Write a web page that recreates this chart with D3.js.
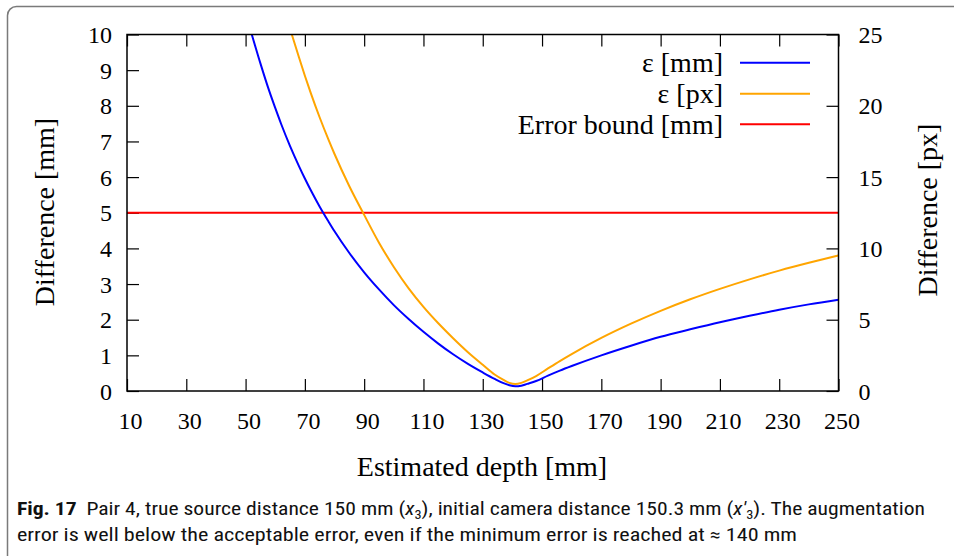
<!DOCTYPE html>
<html><head><meta charset="utf-8">
<script src="https://cdn.jsdelivr.net/npm/d3@7"></script>
<style>
html,body{margin:0;padding:0;background:#fff;}
svg{display:block;}
</style></head>
<body>
<svg id="chart" width="954" height="556"></svg>
<script>
// ---- data ----
const xTicks = [10,30,50,70,90,110,130,150,170,190,210,230,250];
const yLeftTicks = [0,1,2,3,4,5,6,7,8,9,10];
const yRightTicks = [0,5,10,15,20,25];
const seriesNames = ["ε [mm]", "ε [px]", "Error bound [mm]"];
const seriesColors = ["#0000ff", "#ffa500", "#ff0000"];
// ε [mm] (left axis)
const depthMm = [52.1,55,58,60,62,65,68,70,72,75,78,80,85,90,95,100,105,110,115,120,125,130,134,137,139,141,143,145,148,152,156,160,170,180,190,200,210,220,230,240,250];
const errMm   = [10.0,9.19,8.41,7.94,7.49,6.87,6.31,5.96,5.63,5.17,4.75,4.48,3.87,3.33,2.85,2.41,2.02,1.66,1.33,1.03,0.76,0.52,0.34,0.22,0.16,0.13,0.15,0.2,0.28,0.43,0.57,0.7,1.0,1.27,1.52,1.73,1.93,2.11,2.28,2.43,2.56];
// ε [px] (right axis)
const depthPx = [65.6,68,70,72,75,78,80,85,90,95,100,105,110,115,120,125,130,134,137,139,141,143,145,148,152,156,160,170,180,190,200,210,220,230,240,250];
const errPx   = [25.0,23.4,22.11,20.89,19.18,17.61,16.62,14.36,12.35,10.4,8.7,7.2,5.9,4.75,3.7,2.72,1.84,1.16,0.78,0.57,0.49,0.57,0.74,1.05,1.58,2.1,2.59,3.72,4.72,5.62,6.43,7.16,7.83,8.44,8.99,9.5];
// Error bound [mm]
const boundDepth = [10,250];
const boundMm = [5,5];

const svg = d3.select("#chart");
const serif = "'Liberation Serif','Times New Roman',serif";

// frame
svg.append("rect").attr("x",7.5).attr("y",6.5).attr("width",980).attr("height",600)
  .attr("rx",9).attr("fill","none").attr("stroke","#7a7a7a").attr("stroke-width",1.5);

const L=127, R=838.5, T=34.5, B=391;
const x = d3.scaleLinear().domain([10,250]).range([L,R]);
const yL = d3.scaleLinear().domain([0,10]).range([B,T]);
const yR = d3.scaleLinear().domain([0,25]).range([B,T]);

svg.append("defs").append("clipPath").attr("id","clip")
  .append("rect").attr("x",L).attr("y",T).attr("width",R-L).attr("height",B-T);

const tk = 12;
function styleAxis(g){
  g.selectAll("path.domain").remove();
  g.selectAll("line").attr("stroke","#000").attr("stroke-width",1.2);
  g.selectAll("text").attr("font-family",serif).attr("font-size",24).attr("fill","#000");
}
// bottom
svg.append("g").attr("transform",`translate(0,${B})`)
  .call(d3.axisBottom(x).tickValues(xTicks).tickSizeInner(-tk).tickSizeOuter(0).tickPadding(0).tickFormat(d3.format("d")))
  .call(styleAxis).call(g=>g.selectAll("text").attr("dy",0).attr("y",38).attr("x",3));
// top
svg.append("g").attr("transform",`translate(0,${T})`)
  .call(d3.axisTop(x).tickValues(xTicks).tickSizeInner(-tk).tickSizeOuter(0).tickFormat(""))
  .call(styleAxis);
// left
svg.append("g").attr("transform",`translate(${L},0)`)
  .call(d3.axisLeft(yL).tickValues(yLeftTicks).tickSizeInner(-tk).tickSizeOuter(0).tickFormat(d3.format("d")))
  .call(styleAxis).call(g=>g.selectAll("text").attr("x",-15).attr("dy","0.34em"));
// right
svg.append("g").attr("transform",`translate(${R},0)`)
  .call(d3.axisRight(yR).tickValues(yRightTicks).tickSizeInner(-tk).tickSizeOuter(0).tickFormat(d3.format("d")))
  .call(styleAxis).call(g=>g.selectAll("text").attr("x",20).attr("dy","0.34em"));

// series
const plot = svg.append("g").attr("clip-path","url(#clip)");
const lineL = d3.line().x(d=>x(d[0])).y(d=>yL(d[1])).curve(d3.curveMonotoneX);
const lineR = d3.line().x(d=>x(d[0])).y(d=>yR(d[1])).curve(d3.curveMonotoneX);
plot.append("path").datum(boundDepth.map((d,i)=>[d,boundMm[i]]))
  .attr("d",d3.line().x(d=>x(d[0])).y(d=>yL(d[1]))).attr("fill","none")
  .attr("stroke",seriesColors[2]).attr("stroke-width",2);
plot.append("path").datum(depthPx.map((d,i)=>[d,errPx[i]]))
  .attr("d",lineR).attr("fill","none").attr("stroke",seriesColors[1]).attr("stroke-width",2);
plot.append("path").datum(depthMm.map((d,i)=>[d,errMm[i]]))
  .attr("d",lineL).attr("fill","none").attr("stroke",seriesColors[0]).attr("stroke-width",2);

// frame lines
svg.append("rect").attr("x",L).attr("y",T).attr("width",R-L).attr("height",B-T)
  .attr("fill","none").attr("stroke","#000").attr("stroke-width",1.5);

// legend
const legY = [62.7, 93.7, 124.3];
const leg = svg.append("g");
seriesNames.forEach((n,i)=>{
  leg.append("text").attr("x",723).attr("y",legY[i]).attr("dy","0.33em")
    .attr("text-anchor","end").attr("font-family",serif).attr("font-size",28).text(n);
  leg.append("line").attr("x1",740).attr("x2",810).attr("y1",legY[i]).attr("y2",legY[i])
    .attr("stroke",seriesColors[i]).attr("stroke-width",2);
});

// axis titles
svg.append("text").attr("transform","translate(54,212) rotate(-90)").attr("text-anchor","middle")
  .attr("font-family",serif).attr("font-size",28).text("Difference [mm]");
svg.append("text").attr("transform","translate(937,210) rotate(-90)").attr("text-anchor","middle")
  .attr("font-family",serif).attr("font-size",28).text("Difference [px]");
svg.append("text").attr("x",482).attr("y",476).attr("text-anchor","middle")
  .attr("font-family",serif).attr("font-size",28).text("Estimated depth [mm]");

// caption
const capFont = "'Liberation Sans Narrow','Roboto Condensed','Noto Sans',sans-serif";
const c1 = svg.append("text").attr("x",17).attr("y",515).attr("font-family",capFont).attr("font-size",18)
  .attr("fill","#111").attr("textLength",908).attr("lengthAdjust","spacingAndGlyphs");
c1.append("tspan").attr("font-weight","bold").text("Fig. 17");
c1.append("tspan").text("\u2002Pair 4, true source distance 150 mm (");
c1.append("tspan").attr("font-style","italic").text("x");
c1.append("tspan").attr("font-size",12).attr("dy",4).text("3");
c1.append("tspan").attr("dy",-4).text("), initial camera distance 150.3 mm (");
c1.append("tspan").attr("font-style","italic").text("x\u2032");
c1.append("tspan").attr("font-size",12).attr("dy",4).text("3");
c1.append("tspan").attr("dy",-4).text("). The augmentation");
svg.append("text").attr("x",17).attr("y",541).attr("font-family",capFont).attr("font-size",18)
  .attr("fill","#111").attr("textLength",780).attr("lengthAdjust","spacingAndGlyphs")
  .text("error is well below the acceptable error, even if the minimum error is reached at \u2248 140 mm");
</script>
</body></html>
